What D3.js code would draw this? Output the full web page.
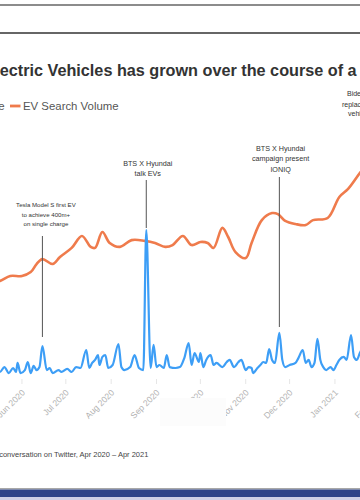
<!DOCTYPE html>
<html><head><meta charset="utf-8">
<script src="https://cdn.jsdelivr.net/npm/d3@7"></script>
<style>html,body{margin:0;padding:0;background:#fff;overflow:hidden}svg{display:block;font-family:"Liberation Sans",Arial,Helvetica,sans-serif}</style>
</head><body><svg id="c" width="360" height="500"></svg>
<script>
// ---- data ----
const baseDate = "2020-05-17";           // day 0
const monthTicks = ["2020-06-01","2020-07-01","2020-08-01","2020-09-01","2020-10-01","2020-11-01","2020-12-01","2021-01-01","2021-02-01"];
const searchDays   = [-7,0,7,15,21,25,29,36,41,49,56,62,65,70,75,82,90,99,106,113,118,125,131,137,142,146,152,156,161,168,172,179,186,190,195,202,209,214,224,232,238,246,253];
const searchVolume = [37.3,38.1,40,40,41.5,44.6,46.5,44.6,47.3,50.8,55.4,51.2,50.8,56.9,52.7,51.2,53.8,53.5,52.7,51.2,51.9,55.4,51.9,53.1,52.7,50.8,58.5,55.0,49.2,46.9,52.7,61.5,64.2,63.8,61.2,60.0,59.6,61.5,62.3,70.4,73.5,79.6,84.6];
const twitterDays   = [-3,0,3,6,9,11,12,14,17,19,21,23,25,27,29,32,34,36,40,42,46,49,52,55,59,61,63,65,67,68,70,72,74,77,81,83,85,89,92,95,98,100,103,105,107,109,112,114,116,120,123,126,129,131,133,136,137,139,141,144,146,148,152,155,157,160,163,165,168,170,172,173,176,178,180,182,184,186,188,191,193,195,198,202,204,207,209,211,213,215,217,219,221,223,226,228,230,232,235,237,240,242,244,246,250];
const twitterVolume = [3.0,2.7,4.3,2.3,4.0,2.7,5.7,2.3,3.3,6.0,2.3,4.7,3.3,4.3,11.3,3.3,4.0,2.3,3.3,2.7,3.7,2.7,4.3,4.0,10.0,4.0,5.7,6.7,8.3,5.0,7.7,8.3,4.0,5.0,12.0,4.3,3.3,4.3,8.3,4.0,3.3,50,4.0,11.7,4.3,5.0,4.0,8.3,4.3,4.0,4.3,7.3,12.3,5.0,9.0,6.0,9.0,4.3,6.7,8.3,5.0,5.7,4.3,6.0,6.7,4.3,6.0,6.7,3.3,4.3,4.0,2.3,4.0,5.0,6.0,5.7,10.3,6.7,5.7,15.7,6.7,4.3,5.0,5.7,7.3,10.0,5.7,6.7,4.3,5.7,13.7,6.7,4.3,3.3,4.3,3.3,5.0,6.7,7.7,6.7,15.0,7.7,6.7,9.0,12.0];
const annotationDays  = [29, 100, 191];
const annotationTexts = [["Tesla Model S first EV","to achieve 400m+","on single charge"],["BTS X Hyundai","talk EVs"],["BTS X Hyundai","campaign present","IONIQ"]];
const bidenText = ["Biden pledges to","replace federal","vehicles with EVs"];
const titleText = "Conversation about Electric Vehicles has grown over the course of a year";
const footText  = "Source: Google Trends and conversation on Twitter, Apr 2020 – Apr 2021";

// ---- layout ----
const svg = d3.select("#c");
const parse = d3.timeParse("%Y-%m-%d");
const t0 = parse(baseDate);
const day = d => d3.timeDay.offset(t0, d);
const x = d3.scaleTime().domain([parse("2020-05-17"), parse("2021-02-01")]).range([0, 380.3]);
const yS = d3.scaleLinear().domain([0,100]).range([380,120]);
const yT = d3.scaleLinear().domain([0,50]).range([380,230]);
const ORANGE = "#ef7b4c", BLUE = "#3d9ef6";

// frame lines
svg.append("rect").attr("x",0).attr("y",4).attr("width",360).attr("height",2).attr("fill","#8c8c8c");
svg.append("rect").attr("x",0).attr("y",32).attr("width",360).attr("height",2).attr("fill","#666");
svg.append("rect").attr("x",0).attr("y",488).attr("width",360).attr("height",1.5).attr("fill","#a8a8a8");
svg.append("rect").attr("x",0).attr("y",489.5).attr("width",360).attr("height",7.5).attr("fill","#2f4489");
svg.append("rect").attr("x",0).attr("y",497).attr("width",360).attr("height",3).attr("fill","#cfd0e6");

function placeFrom(sel, prefixLen, targetX){
  const w = sel.node().getSubStringLength(0, prefixLen);
  sel.attr("x", targetX - w);
}

// title
const title = svg.append("text").attr("y",76).attr("fill","#333").attr("font-weight",700).attr("font-size",17).text(titleText);
{
  const pre = "Conversation about El".length, vis = "ectric Vehicles has grown over the course of a".length;
  const w = title.node().getSubStringLength(pre, vis);
  title.attr("font-size", 17*357/w);
  placeFrom(title, pre, -0.3);
}

// legend
svg.append("text").attr("x",4.6).attr("y",110).attr("text-anchor","end").attr("font-size",11.4).attr("fill","#555").text("Twitter Conversation Volume");
svg.append("line").attr("x1",10).attr("x2",20.5).attr("y1",106).attr("y2",106).attr("stroke",ORANGE).attr("stroke-width",2.8);
svg.append("text").attr("x",23).attr("y",110).attr("font-size",11.4).attr("fill","#555").text("EV Search Volume");

// axis
const ticks = monthTicks.map(parse);
const ax = svg.append("g");
ax.selectAll("line").data(ticks).join("line")
  .attr("x1",d=>x(d)).attr("x2",d=>x(d)).attr("y1",379).attr("y2",384).attr("stroke","#e6e6e6");
ax.selectAll("text").data(ticks).join("text")
  .attr("transform",d=>`translate(${x(d)+1.5},391) rotate(-45)`)
  .attr("text-anchor","end").attr("dy","0.35em").attr("font-size",8.6).attr("fill","#b3b3b3")
  .text(d3.timeFormat("%b %Y"));
svg.append("rect").attr("x",160).attr("y",398).attr("width",66).attr("height",28).attr("fill","#fcfcfc");

// lines
const sData = searchDays.map((d,i)=>({d:day(d), v:searchVolume[i]}));
const tData = twitterDays.map((d,i)=>({d:day(d), v:twitterVolume[i]}));
svg.append("path").datum(sData).attr("fill","none").attr("stroke",ORANGE).attr("stroke-width",2.6).attr("stroke-linejoin","round")
  .attr("d", d3.line().x(p=>x(p.d)).y(p=>yS(p.v)).curve(d3.curveCatmullRom.alpha(0.5)));
svg.append("path").datum(tData).attr("fill","none").attr("stroke",BLUE).attr("stroke-width",2.2).attr("stroke-linejoin","round")
  .attr("d", d3.line().x(p=>x(p.d)).y(p=>yT(p.v)).curve(d3.curveMonotoneX));

// annotations
const annY1 = [236,180,177], annY2 = [337,228,327], annTextY = [207,165.5,150.5], annDx = [3.5,1.5,1.2], annFs = [6.1,7.2,7.2], annLh = [9.5,10,10.5];
annotationDays.forEach((d,i)=>{
  const xx = x(day(d));
  svg.append("line").attr("x1",xx).attr("x2",xx).attr("y1",annY1[i]).attr("y2",annY2[i]).attr("stroke","#555").attr("stroke-width",1);
  const t = svg.append("text").attr("text-anchor","middle").attr("font-size",annFs[i]).attr("fill","#333");
  annotationTexts[i].forEach((s,j)=>t.append("tspan").attr("x",xx+annDx[i]).attr("y",annTextY[i]+j*annLh[i]).text(s));
});
const bx = [347,342,348], by = [96,106.5,115.5];
bidenText.forEach((s,j)=>svg.append("text").attr("x",bx[j]).attr("y",by[j]).attr("font-size",7).attr("fill","#333").text(s));

// footnote
const foot = svg.append("text").attr("y",456.5).attr("font-size",7.5).attr("fill","#444").text(footText);
placeFrom(foot, "Source: Google Trends and ".length, -0.8);
</script></body></html>
